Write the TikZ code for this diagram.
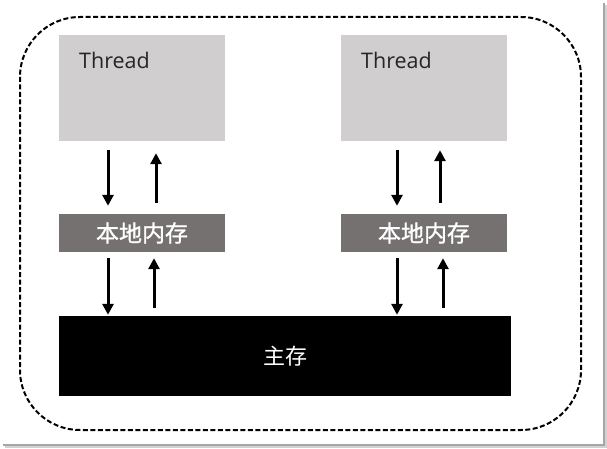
\documentclass[tikz,border=0pt]{standalone}
\usepackage{fontspec}
\setmainfont{Open Sans}
\newfontfamily\cjk{Noto Sans CJK SC}
\newfontfamily\cjkb[FakeBold=1.2]{Noto Sans CJK SC}
\usetikzlibrary{arrows.meta,calc}
\definecolor{thrgray}{HTML}{D0CECE}
\definecolor{memgray}{HTML}{767171}
\definecolor{txtdark}{HTML}{262626}
\begin{document}
\begin{tikzpicture}[x=1pt,y=-1pt,
  threadbox/.style={draw=none,fill=thrgray,minimum width=166pt,minimum height=106pt,inner sep=0pt},
  membox/.style={draw=none,fill=memgray,minimum width=166pt,minimum height=38pt,inner sep=0pt,text=white,font=\cjkb\fontsize{23}{25}\selectfont},
  mainbox/.style={draw=none,fill=black,minimum width=452pt,minimum height=80pt,inner sep=0pt,text=white,font=\cjk\fontsize{22}{24}\selectfont},
  thrtext/.style={anchor=west,inner sep=0pt,text=txtdark,font=\fontsize{21.5}{24}\selectfont},
  arr/.style={line width=3pt,-{Triangle[width=11pt,length=11pt]}},
  outline/.style={line width=2pt,dash pattern=on 5pt off 2.5pt,rounded corners=60pt}
]
\useasboundingbox (0,0) rectangle (607,449);
% image frame shadow
\fill[gray!70] (602.5,3) rectangle (604.5,446);
\fill[gray!35] (604.5,5) rectangle (607,448);
\fill[gray!70] (3,444) rectangle (604.5,446);
\fill[gray!35] (5,446) rectangle (607,448);
% dashed outline
\draw[outline] (20,17) rectangle (581,430);
% nodes
\node[threadbox] (t1) at (142,88) {};
\node[threadbox] (t2) at (424,88) {};
\node[thrtext] (l1) at (79,60) {Thread};
\node[thrtext] (l2) at (361,60) {Thread};
\node[membox] (m1) at (142,233) {本地内存};
\node[membox] (m2) at (424,233) {本地内存};
\node[mainbox] (mm) at (285,356) {主存};
% arrows left
\draw[arr,shorten <=9pt,shorten >=8pt] ([xshift=-34pt]t1.south) -- ([xshift=-34pt]t1.south |- m1.north);
\draw[arr,shorten <=11pt,shorten >=12pt] ([xshift=14pt]m1.north) -- ([xshift=14pt]m1.north |- t1.south);
\draw[arr,shorten <=6pt,shorten >=1pt] ([xshift=-34pt]m1.south) -- ([xshift=-34pt]m1.south |- mm.north);
\draw[arr,shorten <=8pt,shorten >=6pt] ([xshift=12pt]m1.south |- mm.north) -- ([xshift=12pt]m1.south);
% arrows right
\draw[arr,shorten <=9pt,shorten >=8pt] ([xshift=-27pt]t2.south) -- ([xshift=-27pt]t2.south |- m2.north);
\draw[arr,shorten <=11pt,shorten >=9pt] ([xshift=16pt]m2.north) -- ([xshift=16pt]m2.north |- t2.south);
\draw[arr,shorten <=6pt,shorten >=1pt] ([xshift=-27pt]m2.south) -- ([xshift=-27pt]m2.south |- mm.north);
\draw[arr,shorten <=8pt,shorten >=6pt] ([xshift=19pt]m2.south |- mm.north) -- ([xshift=19pt]m2.south);
\end{tikzpicture}
\end{document}
